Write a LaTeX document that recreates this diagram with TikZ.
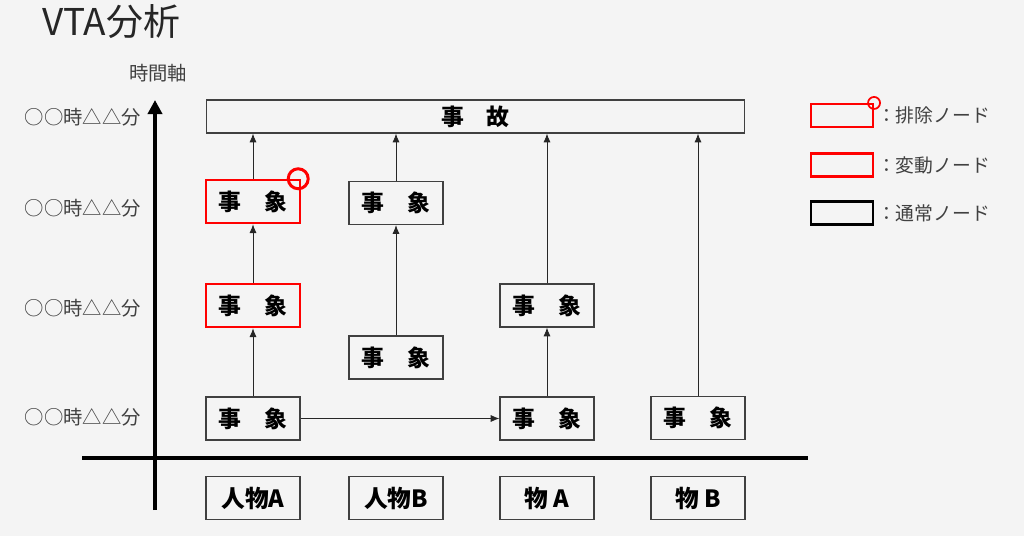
\documentclass[tikz,border=0pt]{standalone}
\usepackage{fontspec}
\setmainfont{Noto Sans CJK JP}
\usetikzlibrary{positioning,arrows.meta}
\definecolor{bg}{RGB}{244,244,244}
\definecolor{ink}{RGB}{64,64,64}
\begin{document}
\begin{tikzpicture}[x=0.02cm,y=-0.02cm,
  ev/.style={draw=ink,line width=0.6pt,minimum width=1.88cm,minimum height=0.86cm,inner sep=0pt,font=\bfseries\fontsize{13}{15}\selectfont},
  chg/.style={ev,draw=red,line width=1.4pt},
  leg/.style={draw,minimum width=1.24cm,minimum height=0.46cm,inner sep=0pt},
  tl/.style={ink,anchor=east,font=\fontsize{11}{13}\selectfont},
  lt/.style={ink,anchor=west,inner sep=1.5pt,font=\fontsize{10.7}{12}\selectfont},
  arr/.style={-{Latex[length=5pt,width=4pt]},line width=0.5pt,black!85}]
\fill[bg] (0,0) rectangle (1024,536);
\useasboundingbox (0,0) rectangle (1024,536);
\node[anchor=west,text=black!85,font=\fontsize{21}{24}\selectfont] (title) at (36,22) {VTA分析};
\node[ink,font=\fontsize{11}{13}\selectfont] (tax) at (158,73) {時間軸};
\foreach \y[count=\i] in {117,208,308,417}
  \node[tl] (t\i) at (147,\y) {○○時△△分};
\coordinate (vb) at (155,510);
\coordinate (vt) at (155,100);
\coordinate (hl) at (82,458);
\coordinate (hr) at (808,458);
\draw[line width=2.3pt,-{Triangle[length=8pt,width=8pt]}] (vb) -- (vt);
\draw[line width=2.3pt] (hl) -- (hr);
\node[ev,minimum width=10.78cm,minimum height=0.66cm] (acc) at (475.5,116.5) {事　故};
\node[chg] (A3) at (253,201.5) {事　象};
\node[chg] (A2) at (253,305.5) {事　象};
\node[ev] (A1) at (253,418.5) {事　象};
\node[ev] (B2) at (396,203) {事　象};
\node[ev] (B1) at (396,357.5) {事　象};
\node[ev] (C2) at (547,305.5) {事　象};
\node[ev] (C1) at (547,418.5) {事　象};
\node[ev] (D1) at (698,418) {事　象};
\foreach \t/\n/\x in {人物A/pA/253,人物B/pB/396,物 A/oA/547,物 B/oB/698}
  \node[ev,font=\bfseries\fontsize{13.5}{15}\selectfont] (\n) at (\x,498) {\t};
\draw[red,line width=1.7pt] (A3.north east) ++(-3,0) circle[radius=0.2cm];
\draw[arr] (A1) -- (A2);
\draw[arr] (A2) -- (A3);
\draw[arr] (A3) -- (A3 |- acc.south);
\draw[arr] (B1) -- (B2);
\draw[arr] (B2) -- (B2 |- acc.south);
\draw[arr] (C1) -- (C2);
\draw[arr] (C2) -- (C2 |- acc.south);
\draw[arr] (D1) -- (D1 |- acc.south);
\draw[arr] (A1) -- (C1);
\node[leg,draw=red,line width=1.2pt] (l1) at (842,115.5) {};
\draw[red,line width=1pt] (l1.north east) circle[radius=0.12cm];
\node[leg,draw=red,line width=1.2pt] (l2) at (842,165) {};
\node[leg,draw=black,line width=1.2pt] (l3) at (842,213) {};
\node[lt] (l1t) at (l1.east) {：排除ノード};
\node[lt] (l2t) at (l2.east) {：変動ノード};
\node[lt] (l3t) at (l3.east) {：通常ノード};
\end{tikzpicture}
\end{document}
